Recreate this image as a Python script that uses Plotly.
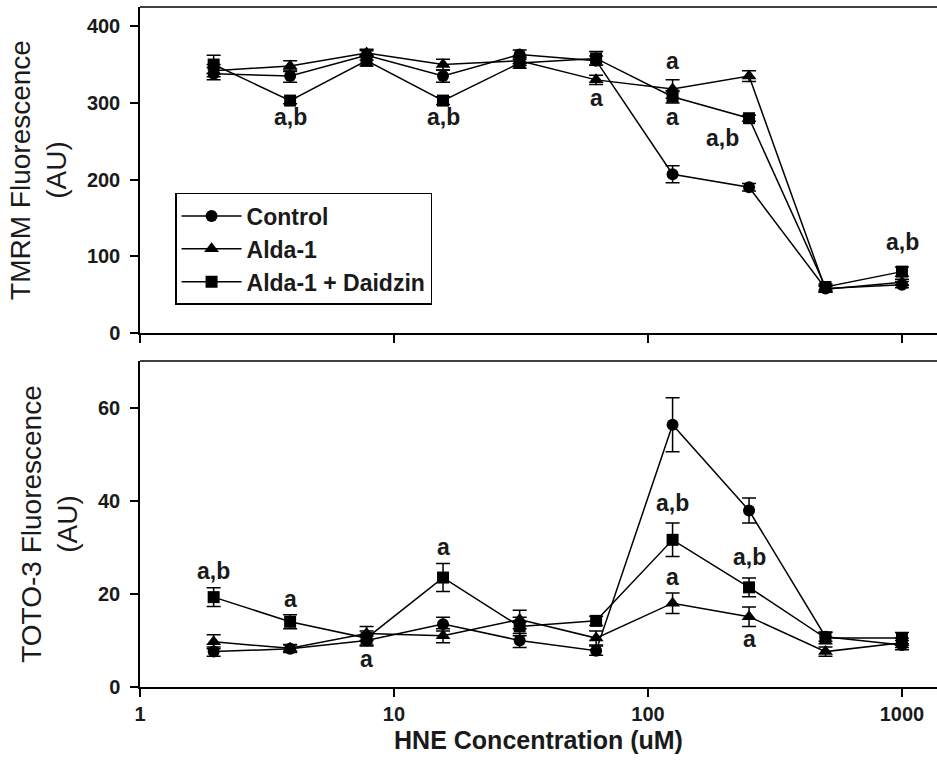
import math
import plotly.graph_objects as go

# ---------------- data ----------------
hne_conc = [1.95, 3.9, 7.8, 15.6, 31.25, 62.5, 125, 250, 500, 1000]
series_names = ["Control", "Alda-1", "Alda-1 + Daidzin"]
series_symbols = ["circle", "triangle-up", "square"]

tmrm_control = [338, 335, 362, 335, 363, 355, 207, 190, 58, 63]
tmrm_alda = [342, 348, 365, 350, 355, 330, 318, 335, 57, 66]
tmrm_alda_daid = [350, 303, 355, 303, 352, 358, 308, 280, 60, 80]
tmrm_control_err = [8, 8, 6, 8, 6, 6, 11, 5, 4, 4]
tmrm_alda_err = [8, 7, 5, 7, 6, 6, 12, 7, 4, 4]
tmrm_alda_daid_err = [12, 4, 7, 5, 7, 9, 8, 4, 4, 6]

toto_control = [7.6, 8.2, 10.0, 13.5, 10.0, 7.8, 56.3, 37.9, 10.8, 9.0]
toto_alda = [9.7, 8.3, 11.5, 11.0, 14.5, 10.5, 18.0, 15.1, 7.6, 9.5]
toto_alda_daid = [19.3, 14.0, 10.5, 23.5, 13.0, 14.2, 31.6, 21.4, 10.5, 10.5]
toto_control_err = [1.0, 0.8, 1.2, 1.5, 1.5, 1.0, 5.8, 2.7, 1.0, 1.0]
toto_alda_err = [1.5, 0.8, 1.5, 1.5, 2.0, 1.5, 2.2, 2.1, 1.0, 1.0]
toto_alda_daid_err = [2.0, 1.5, 1.5, 3.0, 2.0, 1.0, 3.6, 2.0, 1.2, 1.2]

# significance labels: (x, y, text)
tmrm_labels_x = [3.9, 15.6, 62.5, 125, 125, 196, 1009]
tmrm_labels_y = [281, 281, 307, 354, 282, 254, 119]
tmrm_labels_t = ["a,b", "a,b", "a", "a", "a", "a,b", "a,b"]
toto_labels_x = [1.95, 3.9, 7.8, 15.6, 125, 125, 250, 250]
toto_labels_y = [24.9, 19.0, 6.1, 30.1, 39.6, 23.7, 28.0, 10.4]
toto_labels_t = ["a,b", "a", "a", "a", "a,b", "a", "a,b", "a"]

x_ticks = [1, 10, 100, 1000]
tmrm_ticks = [0, 100, 200, 300, 400]
toto_ticks = [0, 20, 40, 60]

# ---------------- figure ----------------
fig = go.Figure()
FONT = "Liberation Sans, Arial, sans-serif"
INK = "#1a1a1a"

tmrm_sets = [(tmrm_control, tmrm_control_err), (tmrm_alda, tmrm_alda_err),
             (tmrm_alda_daid, tmrm_alda_daid_err)]
toto_sets = [(toto_control, toto_control_err), (toto_alda, toto_alda_err),
             (toto_alda_daid, toto_alda_daid_err)]

for i, (name, sym) in enumerate(zip(series_names, series_symbols)):
    msize = 13 if sym == "triangle-up" else 12
    vals, errs = tmrm_sets[i]
    fig.add_trace(go.Scatter(
        x=hne_conc, y=vals, name=name, mode="lines+markers",
        line=dict(color="black", width=1.5),
        marker=dict(symbol=sym, size=msize, color="black"),
        error_y=dict(type="data", array=errs, color="black", thickness=1.5, width=7),
        xaxis="x", yaxis="y", legendgroup=name, showlegend=True))
    vals, errs = toto_sets[i]
    fig.add_trace(go.Scatter(
        x=hne_conc, y=vals, name=name, mode="lines+markers",
        line=dict(color="black", width=1.5),
        marker=dict(symbol=sym, size=msize, color="black"),
        error_y=dict(type="data", array=errs, color="black", thickness=1.5, width=7),
        xaxis="x2", yaxis="y2", legendgroup=name, showlegend=False))

ann_font = dict(family=FONT, size=23, color=INK, weight="bold")
annotations = []
for x, y, t in zip(tmrm_labels_x, tmrm_labels_y, tmrm_labels_t):
    annotations.append(dict(x=math.log10(x), y=y, text=t, xref="x", yref="y",
                            showarrow=False, font=ann_font,
                            xanchor="center", yanchor="middle"))
for x, y, t in zip(toto_labels_x, toto_labels_y, toto_labels_t):
    annotations.append(dict(x=math.log10(x), y=y, text=t, xref="x2", yref="y2",
                            showarrow=False, font=ann_font,
                            xanchor="center", yanchor="middle"))

# top frame lines of each panel; mask the right edge (original is open on the right)
shapes = []
for xr, yr in [("x domain", "y domain"), ("x2 domain", "y2 domain")]:
    shapes.append(dict(type="rect", xref=xr, yref=yr, x0=0.992, x1=1.02, y0=0.003, y1=0.997,
                       fillcolor="white", line=dict(width=0), layer="above"))
    shapes.append(dict(type="line", xref=xr, yref=yr, x0=0, x1=1, y0=1, y1=1,
                       line=dict(color="black", width=1.5), layer="above"))

x_common = dict(type="log", range=[0, 3.138], showline=True, linecolor="black", linewidth=1.5,
                mirror=False, ticks="outside", ticklen=8, tickwidth=1.5, tickcolor="black",
                tickvals=x_ticks, showgrid=False, zeroline=False, domain=[0, 1])
y_common = dict(showline=True, linecolor="black", linewidth=1.5, ticks="outside", ticklen=8,
                tickwidth=1.5, tickcolor="black", showgrid=False, zeroline=False, mirror=False,
                ticklabelstandoff=6,
                tickfont=dict(family=FONT, size=20, color=INK, weight="bold"))

fig.update_layout(
    width=937, height=768,
    margin=dict(l=140, r=0, t=7, b=81),
    plot_bgcolor="white", paper_bgcolor="white",
    showlegend=True,
    legend=dict(x=0.044, y=0.7265, xanchor="left", yanchor="top",
                bordercolor="black", borderwidth=1.5, bgcolor="white",
                font=dict(family=FONT, size=23, color=INK, weight="bold"),
                itemwidth=60, tracegroupgap=0),
    xaxis=dict(**x_common, anchor="y", showticklabels=False),
    xaxis2=dict(**x_common, anchor="y2", matches="x",
                ticktext=[str(v) for v in x_ticks],
                tickfont=dict(family=FONT, size=20, color=INK, weight="bold"),
                title=dict(text="HNE Concentration (uM)", standoff=8,
                           font=dict(family=FONT, size=25, color=INK, weight="bold"))),
    yaxis=dict(**y_common, domain=[0.5206, 1.0], range=[0, 425], tickvals=tmrm_ticks,
               anchor="x",
               title=dict(text="TMRM Fluorescence<br>(AU)", standoff=12,
                          font=dict(family=FONT, size=28, color=INK))),
    yaxis2=dict(**y_common, domain=[0, 0.4794], range=[0, 70], tickvals=toto_ticks,
                anchor="x2",
                title=dict(text="TOTO-3 Fluorescence<br>(AU)", standoff=12,
                           font=dict(family=FONT, size=28, color=INK))),
    annotations=annotations,
    shapes=shapes,
)

fig.write_html("out.html")
